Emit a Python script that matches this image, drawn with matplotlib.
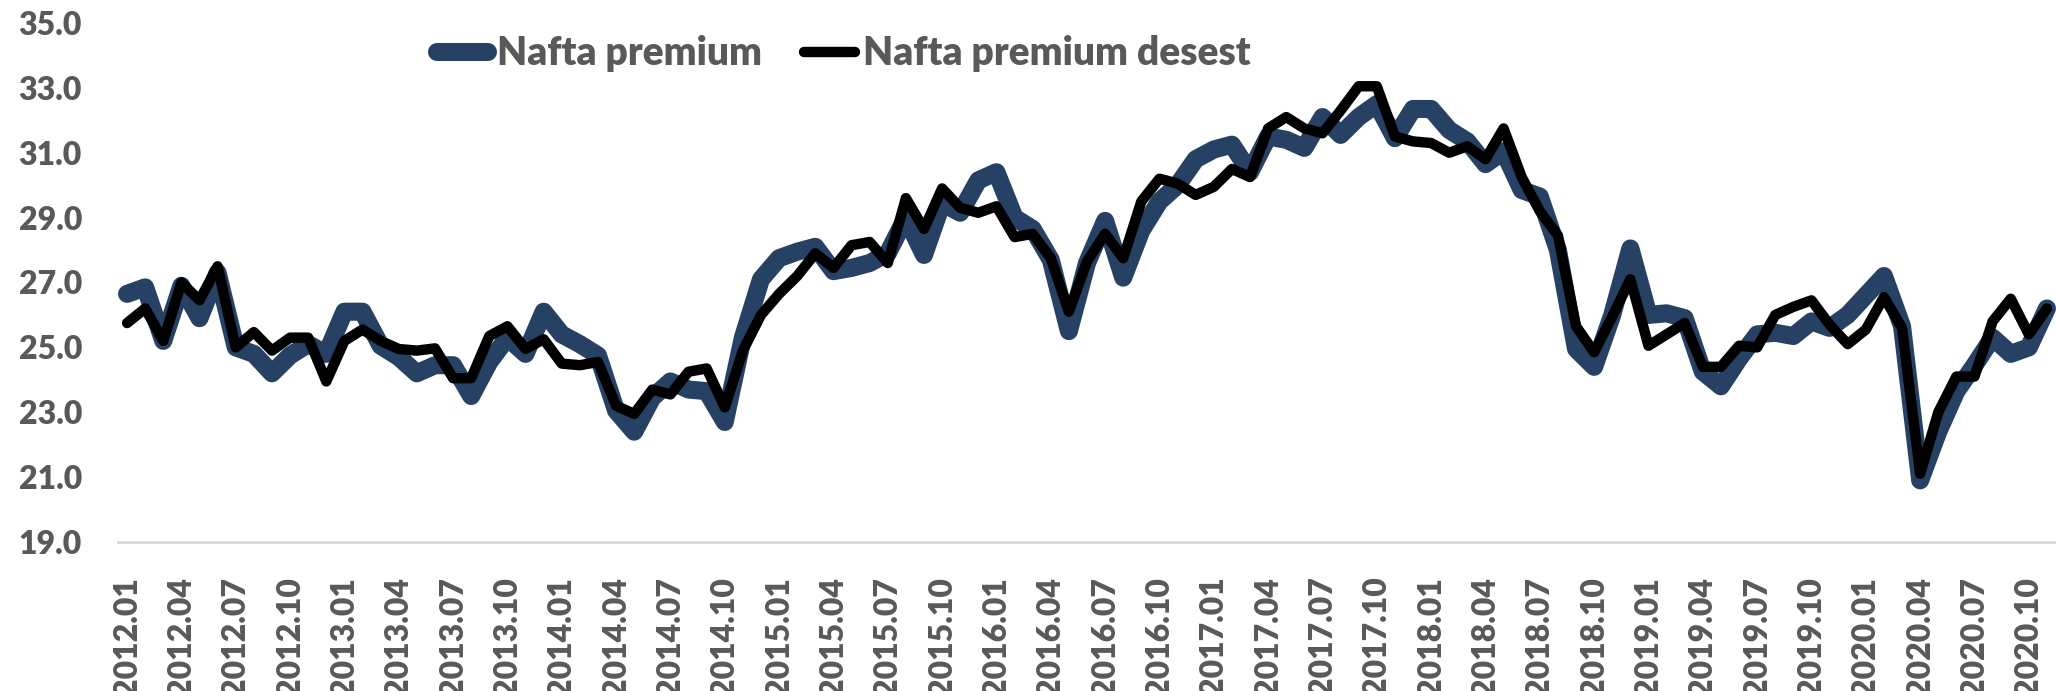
import matplotlib
matplotlib.use("Agg")
import matplotlib.pyplot as plt

# Categories: monthly, 2012.01 .. 2020.11
months = [f"{y}.{m:02d}" for y in range(2012, 2021) for m in range(1, 13)][:107]

nafta_premium = [
    26.65, 26.85, 25.2, 26.9, 25.9, 27.3, 25.0, 24.8, 24.2, 24.75, 25.1, 24.8,
    26.1, 26.1, 25.05, 24.7, 24.2, 24.45, 24.45, 23.5, 24.55, 25.3, 24.8, 26.1,
    25.4, 25.1, 24.75, 23.05, 22.4, 23.45, 23.95, 23.7, 23.65, 22.7, 25.3, 27.1,
    27.75, 27.95, 28.1, 27.35, 27.45, 27.6, 27.9, 29.0, 27.85, 29.45, 29.15, 30.15,
    30.4, 29.0, 28.65, 27.7, 25.5, 27.6, 28.9, 27.15, 28.6, 29.5, 30.0, 30.8,
    31.1, 31.25, 30.4, 31.5, 31.4, 31.15, 32.1, 31.55, 32.1, 32.5, 31.45, 32.35,
    32.35, 31.7, 31.35, 30.65, 31.05, 29.85, 29.65, 28.0, 24.95, 24.4, 26.0, 28.05,
    26.0, 26.05, 25.9, 24.25, 23.8, 24.65, 25.4, 25.45, 25.35, 25.8, 25.6, 26.0,
    26.6, 27.2, 25.65, 20.9, 22.4, 23.65, 24.45, 25.3, 24.8, 25.0, 26.2,
]

nafta_premium_desest = [
    25.75, 26.2, 25.2, 27.0, 26.45, 27.5, 25.0, 25.47, 24.9, 25.3, 25.3, 23.95,
    25.2, 25.55, 25.2, 24.95, 24.9, 24.97, 24.05, 24.05, 25.35, 25.65, 24.95, 25.25,
    24.5, 24.45, 24.55, 23.2, 22.95, 23.7, 23.55, 24.25, 24.35, 23.15, 24.9, 26.0,
    26.65, 27.2, 27.9, 27.45, 28.15, 28.25, 27.6, 29.6, 28.65, 29.9, 29.3, 29.15,
    29.35, 28.4, 28.5, 27.75, 26.1, 27.65, 28.5, 27.75, 29.5, 30.2, 30.05, 29.7,
    29.95, 30.5, 30.25, 31.75, 32.1, 31.75, 31.6, 32.3, 33.05, 33.05, 31.5, 31.35,
    31.3, 31.0, 31.2, 30.8, 31.75, 30.25, 29.2, 28.45, 25.65, 24.85, 25.95, 27.1,
    25.05, 25.4, 25.75, 24.4, 24.4, 25.05, 25.0, 26.0, 26.25, 26.45, 25.7, 25.1,
    25.55, 26.55, 25.6, 21.1, 23.0, 24.1, 24.1, 25.8, 26.5, 25.4, 26.2,
]

series_names = ["Nafta premium", "Nafta premium desest"]
y_ticks = [19.0, 21.0, 23.0, 25.0, 27.0, 29.0, 31.0, 33.0, 35.0]

FONT = "Lato"
WEIGHT = "heavy"
GRAY = "#595959"
BLUE = "#264164"

W, H = 2056, 691
fig = plt.figure(figsize=(W / 100, H / 100), dpi=100)
ax = fig.add_axes([118 / W, (H - 542) / H, (W - 118) / W, (542 - 23) / H])

x = list(range(len(months)))
ax.plot(x, nafta_premium, color=BLUE, lw=13, solid_joinstyle="round",
        solid_capstyle="round", label=series_names[0], zorder=2)
ax.plot(x, nafta_premium_desest, color="black", lw=7.5, solid_joinstyle="round",
        solid_capstyle="round", label=series_names[1], zorder=3)

ax.set_xlim(-0.5, len(months) - 0.5)
ax.set_ylim(19, 35)
ax.set_yticks(y_ticks)
ax.set_yticklabels([f"{v:.1f}" for v in y_ticks])
ax.set_xticks(x[::3])
ax.set_xticklabels(months[::3], rotation=90, va="top", ha="center")

for s in ["top", "right", "left"]:
    ax.spines[s].set_visible(False)
ax.spines["bottom"].set_color("#D9D9D9")
ax.spines["bottom"].set_linewidth(2)
ax.tick_params(axis="both", length=0)
ax.tick_params(axis="y", pad=26)
ax.tick_params(axis="x", pad=25)
for lab in ax.get_yticklabels() + ax.get_xticklabels():
    lab.set_fontfamily(FONT)
    lab.set_fontweight(WEIGHT)
    lab.set_fontsize(23)
    lab.set_color(GRAY)

leg = fig.legend(loc="center left", bbox_to_anchor=(437 / W, 1 - 54 / H),
                 ncol=2, frameon=False, borderpad=0, borderaxespad=0,
                 handlelength=1.32, handletextpad=0.22, columnspacing=1.07,
                 prop={"family": FONT, "weight": WEIGHT, "size": 28})
for t in leg.get_texts():
    t.set_color(GRAY)

fig.savefig("out.png", dpi=100, facecolor="white")
